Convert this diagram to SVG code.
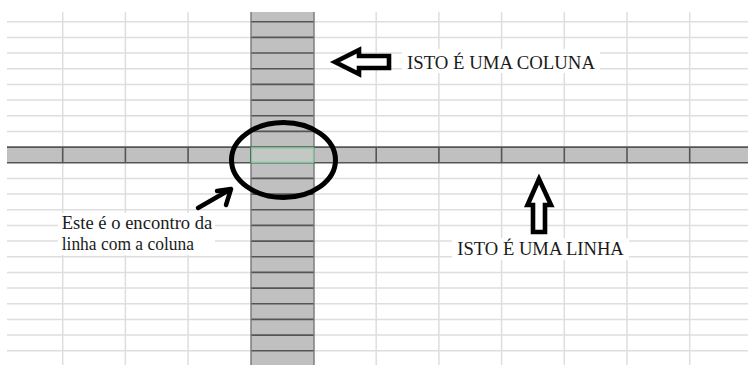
<svg xmlns="http://www.w3.org/2000/svg" width="748" height="365" viewBox="0 0 748 365">
<style>
.grid{stroke:#dedede;stroke-width:1.5;fill:none}
.cell{fill:#c0c0c0}
.sep{stroke:#555;stroke-width:1.6;fill:none}
.edge{stroke:#777;stroke-width:1.4;fill:none}
.ink{stroke:#000;fill:#fff;stroke-width:4.6;stroke-linejoin:miter}
.lbl{font-family:"Liberation Serif","Times New Roman",serif;font-size:18.5px;fill:#1a1a1a}
.bg{fill:#fff}
</style>
<rect width="748" height="365" fill="#fff"/>
<g id="grid">
<path class="grid" d="M7 21.7H748M7 37.4H748M7 53H748M7 68.7H748M7 84.4H748M7 100.1H748M7 115.7H748M7 131.4H748M7 178.4H748M7 194.1H748M7 209.7H748M7 225.4H748M7 241.1H748M7 256.8H748M7 272.4H748M7 288.1H748M7 303.8H748M7 319.4H748M7 335.1H748M7 350.8H748M62.7 12V365M125.4 12V365M188.1 12V365M376.2 12V365M438.9 12V365M501.6 12V365M564.3 12V365M627 12V365M689.7 12V365"/>
</g>
<g id="column">
<rect class="cell" x="251" y="12" width="63" height="353"/>
<path class="sep" d="M251 21.7H314M251 37.4H314M251 53H314M251 68.7H314M251 84.4H314M251 100.1H314M251 115.7H314M251 131.4H314M251 178.4H314M251 194.1H314M251 209.7H314M251 225.4H314M251 241.1H314M251 256.8H314M251 272.4H314M251 288.1H314M251 303.8H314M251 319.4H314M251 335.1H314M251 350.8H314"/>
<path class="edge" d="M251 12V365M314 12V365"/>
</g>
<g id="row">
<rect class="cell" x="7" y="147" width="741" height="16"/>
<path class="sep" d="M7 147.1H748M7 162.7H748M62.7 147V163M125.4 147V163M188.1 147V163M250.8 147V163M313.5 147V163M376.2 147V163M438.9 147V163M501.6 147V163M564.3 147V163M627 147V163M689.7 147V163"/>
</g>
<g id="intersection">
<rect x="251.5" y="147.8" width="62" height="14.6" fill="#c4c8c4" stroke="#78c898" stroke-width="1.3"/>
<ellipse cx="283.5" cy="160" rx="52" ry="37.5" fill="none" stroke="#000" stroke-width="5"/>
</g>
<g id="connectors">
<polygon class="ink" points="335,62 359,50 359,56 389,56 389,68 359,68 359,74"/>
<polygon class="ink" points="539,179 527.5,205 533,205 533,232 545,232 545,205 551,205"/>
<path d="M198 208L231 189M231 189L217 191M231 189L226 205" stroke="#000" stroke-width="4.5" fill="none" stroke-linecap="round"/>
</g>
<g id="label-coluna">
<rect class="bg" x="402" y="49" width="198" height="24"/>
<text class="lbl" x="407" y="68.5" textLength="188" lengthAdjust="spacingAndGlyphs">ISTO É UMA COLUNA</text>
</g>
<g id="label-linha">
<rect class="bg" x="452" y="238" width="177" height="22"/>
<text class="lbl" x="457.3" y="255" textLength="166.5" lengthAdjust="spacingAndGlyphs">ISTO É UMA LINHA</text>
</g>
<g id="label-encontro">
<rect class="bg" x="58" y="213" width="157" height="42"/>
<text class="lbl" x="61.7" y="229.3" textLength="150.6" lengthAdjust="spacingAndGlyphs">Este é o encontro da</text>
<text class="lbl" x="61.7" y="250" textLength="132.3" lengthAdjust="spacingAndGlyphs">linha com a coluna</text>
</g>
</svg>
